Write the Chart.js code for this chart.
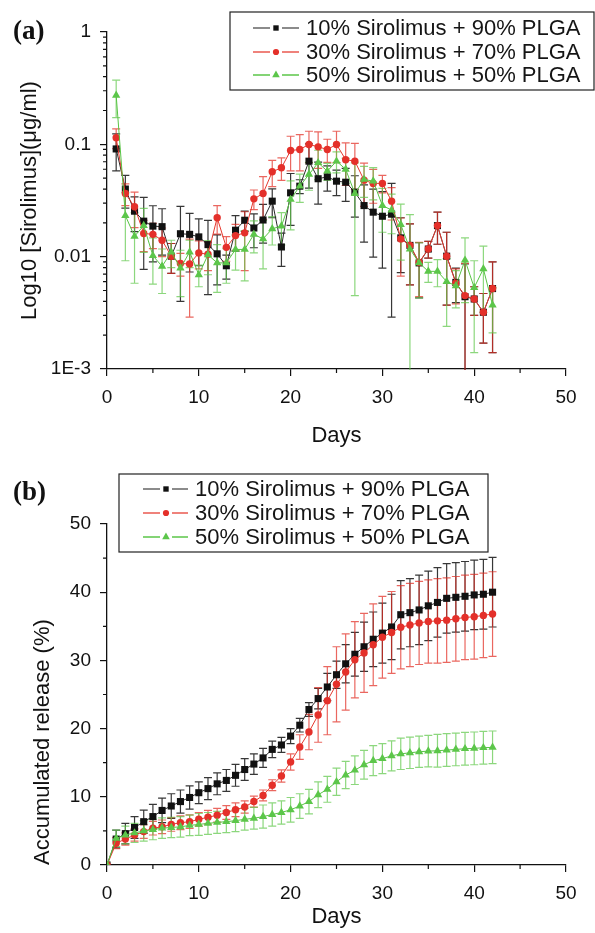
<!DOCTYPE html>
<html>
<head>
<meta charset="utf-8">
<script src="https://cdn.jsdelivr.net/npm/chart.js@4.4.1/dist/chart.umd.min.js"></script>
<style>
  html, body { margin: 0; padding: 0; background: #fff; }
  body { width: 595px; height: 933px; position: relative; overflow: hidden; }
  .panel { position: absolute; left: 0; width: 595px; }
  #wrapA { top: 0; height: 460px; }
  #wrapB { top: 460px; height: 473px; }
  .tag { position: absolute; font: bold 27px "Liberation Serif", "DejaVu Serif", serif; color: #111; }
</style>
</head>
<body>
<div class="panel" id="wrapA"><canvas id="chartA"></canvas></div>
<div class="panel" id="wrapB"><canvas id="chartB"></canvas></div>
<div class="tag" style="left:13px; top:15px">(a)</div>
<div class="tag" style="left:13px; top:476px">(b)</div>
<script>
// series names
const seriesNames = ['10% Sirolimus + 90% PLGA', '30% Sirolimus + 70% PLGA', '50% Sirolimus + 50% PLGA'];

// (a) daily concentration, days 1..42
const daysA = [1,2,3,4,5,6,7,8,9,10,11,12,13,14,15,16,17,18,19,20,21,22,23,24,25,26,27,28,29,30,31,32,33,34,35,36,37,38,39,40,41,42];
const blackA = [0.091,0.040,0.0254,0.0207,0.0187,0.0185,0.0101,0.016,0.0158,0.015,0.0128,0.0106,0.0083,0.0172,0.0211,0.018,0.0212,0.0312,0.0122,0.037,0.0424,0.0708,0.0494,0.0514,0.047,0.046,0.0375,0.0285,0.0249,0.0229,0.0239,0.0147,0.0126,0.0088,0.0117,0.0189,0.0101,0.0059,0.0044,0.0042,0.0032,0.0052];
const blackErrA = [0.033,0.013,0.0087,0.013,0.0097,0.0082,0.003,0.012,0.0085,0.0067,0.0082,0.005,0.002,0.006,0.0043,0.006,0.008,0.009,0.004,0.018,0.006,0.03,0.02,0.013,0.012,0.015,0.015,0.015,0.015,0.015,0.021,0.0075,0.007,0.0045,0.002,0.006,0.0064,0.002,0.0042,0.0012,0.0015,0.0038];
const redA = [0.1145,0.0365,0.0278,0.0161,0.0158,0.014,0.0101,0.0087,0.0086,0.0108,0.0105,0.0222,0.0121,0.0154,0.0163,0.0327,0.0365,0.057,0.0618,0.088,0.090,0.0998,0.095,0.090,0.0998,0.073,0.0708,0.048,0.0449,0.0449,0.0312,0.0144,0.0126,0.0089,0.0117,0.0189,0.0101,0.0058,0.0045,0.0042,0.0032,0.0052];
const redErrA = [0.023,0.008,0.0097,0.005,0.004,0.004,0.003,0.002,0.0057,0.003,0.003,0.0063,0.003,0.004,0.0088,0.0065,0.015,0.015,0.014,0.03,0.032,0.031,0.034,0.021,0.031,0.03,0.031,0.02,0.015,0.008,0.01,0.0077,0.007,0.0045,0.002,0.006,0.0064,0.002,0.0042,0.0012,0.0015,0.0038];
const greenA = [0.273,0.0232,0.0152,0.0189,0.0102,0.0082,0.011,0.0079,0.011,0.0069,0.0104,0.0088,0.0088,0.0116,0.0116,0.0158,0.0144,0.0177,0.0187,0.0323,0.0424,0.054,0.0686,0.0577,0.0708,0.060,0.0365,0.0487,0.047,0.0285,0.026,0.0193,0.0117,0.0088,0.0074,0.0074,0.006,0.0055,0.0093,0.0053,0.0078,0.0037];
const greenErrA = [0.10,0.014,0.0094,0.008,0.0045,0.0035,0.003,0.0035,0.003,0.0015,0.0035,0.004,0.003,0.004,0.0055,0.005,0.0066,0.005,0.006,0.015,0.012,0.015,0.02,0.01,0.015,0.015,0.032,0.015,0.015,0.012,0.01,0.01,0.012,0.0045,0.0015,0.002,0.0036,0.002,0.0054,0.0039,0.0046,0.0016];

// (b) accumulated release, days 0..42
const daysB = [0,1,2,3,4,5,6,7,8,9,10,11,12,13,14,15,16,17,18,19,20,21,22,23,24,25,26,27,28,29,30,31,32,33,34,35,36,37,38,39,40,41,42];
const blackB = [0,3.8,4.6,5.5,6.35,7.1,8.0,8.65,9.3,9.9,10.6,11.2,11.9,12.4,13.15,14.0,14.8,15.7,16.95,17.6,18.9,20.5,22.8,24.4,26.1,27.9,29.5,30.9,32.0,33.1,34.0,34.9,36.7,37.0,37.4,38.0,38.5,39.1,39.25,39.4,39.6,39.7,40.0];
const blackErrB = [0,1.3,1.5,1.6,1.7,1.8,1.8,1.8,1.7,1.7,1.6,1.6,1.6,1.6,1.6,1.6,1.5,1.4,1.2,1.1,1.1,1.0,1.0,1.5,2.0,2.0,2.8,3.2,3.6,4.0,4.4,4.8,5.0,5.0,5.1,5.1,5.1,5.1,5.1,5.1,5.1,5.1,5.1];
const redB = [0,3.2,3.8,4.4,4.9,5.4,5.6,5.95,6.2,6.35,6.7,7.0,7.3,7.7,8.1,8.5,9.3,10.2,11.7,13.05,15.1,17.3,19.5,22.0,24.1,26.5,28.3,30.1,31.1,32.3,33.4,34.1,34.85,35.2,35.5,35.7,35.8,35.9,36.1,36.3,36.4,36.6,36.8];
const redErrB = [0,0.8,0.9,0.9,1.0,1.0,1.0,1.0,1.0,1.0,1.0,1.0,1.0,1.0,1.0,0.9,0.8,0.8,0.8,0.9,1.2,1.8,2.6,4.0,5.0,5.5,5.6,5.6,5.8,6.0,6.0,6.0,6.1,6.1,6.1,6.1,6.2,6.2,6.2,6.2,6.2,6.2,6.2];
const greenB = [0,3.9,4.4,4.7,5.0,5.2,5.4,5.5,5.6,5.8,5.95,6.1,6.25,6.35,6.5,6.7,6.85,7.1,7.4,7.7,8.1,8.65,9.3,10.3,11.1,12.2,13.2,13.9,14.7,15.3,15.6,16.0,16.3,16.45,16.6,16.7,16.75,16.85,16.95,17.05,17.1,17.2,17.25];
const greenErrB = [0,1.2,1.3,1.4,1.5,1.5,1.5,1.5,1.5,1.5,1.6,1.6,1.6,1.6,1.6,1.6,1.6,1.7,1.7,1.7,1.8,1.8,1.8,1.9,1.9,2.0,2.0,2.1,2.1,2.2,2.2,2.2,2.3,2.3,2.3,2.3,2.4,2.4,2.4,2.4,2.4,2.4,2.4];

// axis ticks
const logTicks = [0.001, 0.01, 0.1, 1];
const logLabels = ['1E-3', '0.01', '0.1', '1'];
const logMinor = [2,3,4,5,6,7,8,9].flatMap(m => [m * 0.001, m * 0.01, m * 0.1]);
const xMinor = [5, 15, 25, 35, 45];
const releaseMinor = [5, 15, 25, 35, 45];

Chart.defaults.font.family = '"Liberation Sans", Arial, sans-serif';
Chart.defaults.color = '#111';

const INK = '#111';
const styles = [
  { line: '#2a2a2a', fill: '#111', err: 'rgba(20,20,20,0.85)', shape: 'rect', r: 5, legLine: '#666', legR: 3.8 },
  { line: '#e6392f', fill: '#e4302a', err: 'rgba(226,45,35,0.72)', shape: 'circle', r: 3.7, legLine: '#ea5a50', legR: 3.1 },
  { line: '#58c444', fill: '#5cc64a', err: 'rgba(95,200,75,0.72)', shape: 'triangle', r: 4.8, legLine: '#5cc64a', legR: 4.4 }
];

// vertical error bars with caps, drawn behind the markers
const errorBars = {
  id: 'errorBars',
  beforeDatasetsDraw(chart) {
    const { ctx, chartArea: a, scales: { x, y } } = chart;
    ctx.save();
    ctx.beginPath();
    ctx.rect(a.left, a.top, a.right - a.left, a.bottom - a.top + 1);
    ctx.clip();
    ctx.lineWidth = 1.2;
    chart.data.datasets.forEach(ds => {
      ctx.strokeStyle = ds.errorColor;
      ds.data.forEach((p, i) => {
        const e = ds.errors[i];
        if (!e) return;
        const px = x.getPixelForValue(p.x);
        const top = y.getPixelForValue(p.y + e);
        const lo = p.y - e;
        const hasLo = lo > y.min;
        const bot = hasLo ? y.getPixelForValue(lo) : a.bottom + 2;
        ctx.beginPath();
        ctx.moveTo(px, top); ctx.lineTo(px, bot);
        ctx.moveTo(px - 4, top); ctx.lineTo(px + 4, top);
        if (hasLo) { ctx.moveTo(px - 4, bot); ctx.lineTo(px + 4, bot); }
        ctx.stroke();
      });
    });
    ctx.restore();
  }
};

// short minor tick marks outside the axes
const minorTicks = {
  id: 'minorTicks',
  afterDraw(chart, args, o) {
    const { ctx, scales: { x, y } } = chart;
    ctx.save();
    ctx.strokeStyle = INK;
    ctx.lineWidth = 1.2;
    ctx.beginPath();
    o.x.forEach(v => { const px = x.getPixelForValue(v); ctx.moveTo(px, x.top); ctx.lineTo(px, x.top + 4); });
    o.y.forEach(v => { const py = y.getPixelForValue(v); ctx.moveTo(y.right - 4, py); ctx.lineTo(y.right, py); });
    ctx.stroke();
    ctx.restore();
  }
};

// boxed legend with line-marker-line samples
const boxLegend = {
  id: 'boxLegend',
  afterDraw(chart, args, o) {
    const { ctx } = chart;
    ctx.save();
    ctx.strokeStyle = '#222';
    ctx.lineWidth = 1.2;
    ctx.strokeRect(o.box[0], o.box[1], o.box[2] - o.box[0], o.box[3] - o.box[1]);
    ctx.font = '22px "Liberation Sans", Arial, sans-serif';
    ctx.textBaseline = 'middle';
    chart.data.datasets.forEach((ds, i) => {
      const st = styles[i];
      const yy = o.rows[i];
      ctx.strokeStyle = st.legLine;
      ctx.lineWidth = 1.3;
      ctx.beginPath();
      ctx.moveTo(o.line[0], yy); ctx.lineTo(o.mark - 6, yy);
      ctx.moveTo(o.mark + 6, yy); ctx.lineTo(o.line[1], yy);
      ctx.stroke();
      ctx.fillStyle = st.fill;
      Chart.helpers.drawPoint(ctx, { pointStyle: st.shape, radius: st.legR, rotation: 0, borderWidth: 0 }, o.mark, yy);
      ctx.fillStyle = '#151515';
      ctx.fillText(ds.label, o.text, yy + 1);
    });
    ctx.restore();
  }
};

function series(days, vals, errs, i) {
  const st = styles[i];
  return {
    label: seriesNames[i],
    data: days.map((d, k) => ({ x: d, y: vals[k] })),
    errors: errs,
    errorColor: st.err,
    borderColor: st.line,
    borderWidth: 1,
    tension: 0,
    pointStyle: st.shape,
    pointRadius: st.r,
    pointBackgroundColor: st.fill,
    pointBorderWidth: 0,
    order: 3 - i
  };
}

function xAxis(height) {
  return {
    type: 'linear', min: 0, max: 50,
    afterFit: s => { s.height = height; },
    ticks: { stepSize: 10, padding: 10, font: { size: 19 }, color: INK, maxRotation: 0, autoSkip: false },
    grid: { drawOnChartArea: false, drawTicks: true, tickLength: 7, color: INK, lineWidth: 1.2 },
    border: { display: true, color: INK, width: 1.3 },
    title: { display: true, text: 'Days', font: { size: 22 }, color: INK, padding: 0 }
  };
}

const common = {
  responsive: true,
  maintainAspectRatio: false,
  animation: false,
  events: [],
  plugins: { legend: { display: false }, tooltip: { enabled: false } }
};

new Chart(document.getElementById('chartA'), {
  type: 'line',
  data: { datasets: [series(daysA, blackA, blackErrA, 0), series(daysA, redA, redErrA, 1), series(daysA, greenA, greenErrA, 2)] },
  options: {
    ...common,
    layout: { padding: { left: 0, right: 29, top: 32, bottom: 10.8 } },
    scales: {
      x: xAxis(80.2),
      y: {
        type: 'logarithmic', min: 0.001, max: 1,
        afterBuildTicks: s => { s.ticks = logTicks.map(v => ({ value: v })); },
        afterFit: s => { s.width = 107; },
        ticks: { callback: (v, i) => logLabels[i], padding: 9, font: { size: 19 }, color: INK },
        grid: { drawOnChartArea: false, drawTicks: true, tickLength: 7, color: INK, lineWidth: 1.2 },
        border: { display: true, color: INK, width: 1.3 },
        title: { display: true, text: 'Log10 [Sirolimus](μg/ml)', font: { size: 22 }, color: INK, padding: { top: 16.8, bottom: 0 } }
      }
    },
    plugins: {
      ...common.plugins,
      minorTicks: { x: xMinor, y: logMinor },
      boxLegend: { box: [230, 12, 594, 90], rows: [28, 52, 75], line: [253, 299], mark: 276, text: 306 }
    }
  },
  plugins: [errorBars, minorTicks, boxLegend]
});

new Chart(document.getElementById('chartB'), {
  type: 'line',
  data: { datasets: [series(daysB, blackB, blackErrB, 0), series(daysB, redB, redErrB, 1), series(daysB, greenB, greenErrB, 2)] },
  options: {
    ...common,
    layout: { padding: { left: 0, right: 29, top: 64, bottom: 2.8 } },
    scales: {
      x: xAxis(65.2),
      y: {
        type: 'linear', min: 0, max: 50,
        afterFit: s => { s.width = 107; },
        ticks: { stepSize: 10, padding: 9, font: { size: 19 }, color: INK },
        grid: { drawOnChartArea: false, drawTicks: true, tickLength: 7, color: INK, lineWidth: 1.2 },
        border: { display: true, color: INK, width: 1.3 },
        title: { display: true, text: 'Accumulated release (%)', align: 'start', font: { size: 22 }, color: INK, padding: { top: 29.8, bottom: 0 } }
      }
    },
    plugins: {
      ...common.plugins,
      minorTicks: { x: xMinor, y: releaseMinor },
      boxLegend: { box: [119, 14, 488, 92], rows: [29, 53, 77], line: [143, 188], mark: 166, text: 195 }
    }
  },
  plugins: [errorBars, minorTicks, boxLegend]
});
</script>
</body>
</html>
